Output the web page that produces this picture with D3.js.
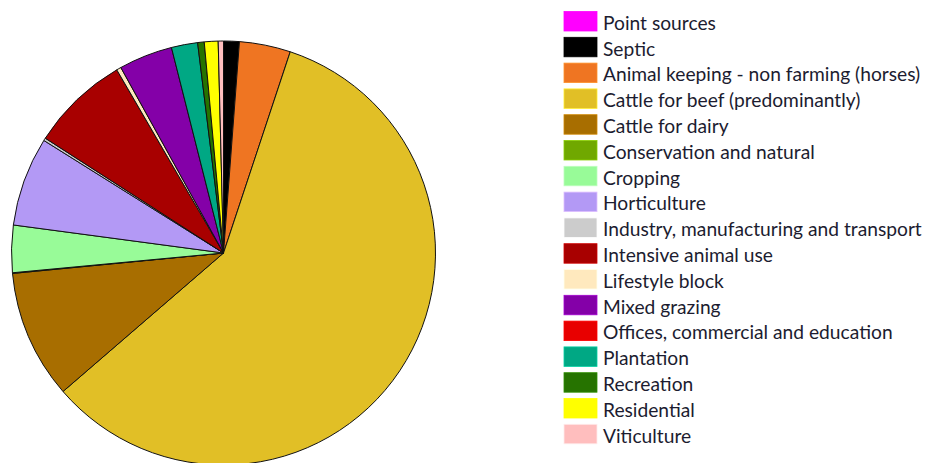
<!DOCTYPE html>
<html>
<head>
<meta charset="utf-8">
<script src="https://cdn.jsdelivr.net/npm/d3@7"></script>
<style>
  html, body { margin: 0; padding: 0; background: #fff; }
  svg { display: block; }
</style>
</head>
<body>
<svg id="chart" width="925" height="463"></svg>
<script>
// Land-use categories, in legend / slice order (clockwise from 12 o'clock)
const categories = [
  "Point sources",
  "Septic",
  "Animal keeping - non farming (horses)",
  "Cattle for beef (predominantly)",
  "Cattle for dairy",
  "Conservation and natural",
  "Cropping",
  "Horticulture",
  "Industry, manufacturing and transport",
  "Intensive animal use",
  "Lifestyle block",
  "Mixed grazing",
  "Offices, commercial and education",
  "Plantation",
  "Recreation",
  "Residential",
  "Viticulture"
];

// Share of the total (%) for each category
const shares = [
  0.0, 1.2, 3.9, 58.6, 9.8, 0.05, 3.6, 6.8, 0.2, 7.5, 0.35, 4.1, 0.0, 2.0, 0.5, 1.05, 0.4
];

// Fill colour per category
const colors = [
  "#FF00FF", "#000000", "#EF7522", "#E1BF26", "#A86E00", "#70A800",
  "#98FB98", "#B399F5", "#CCCCCC", "#A80000", "#FFE9BE", "#8400A8",
  "#E80000", "#00A884", "#267300", "#FFFF00", "#FFBEBE"
];

const rows = categories.map((name, i) => ({ name, value: shares[i], color: colors[i] }));

const svg = d3.select("#chart");

// ---- Pie ----
const cx = 223.5, cy = 253, radius = 212;

const pie = d3.pie()
  .value(d => d.value)
  .sort(null)
  .startAngle(0)
  .endAngle(2 * Math.PI);

const arc = d3.arc().innerRadius(0).outerRadius(radius);

const pieG = svg.append("g").attr("transform", `translate(${cx},${cy})`);

pieG.selectAll("path")
  .data(pie(rows).filter(d => d.data.value > 0))
  .join("path")
  .attr("d", arc)
  .attr("fill", d => d.data.color)
  .attr("stroke", "#111")
  .attr("stroke-width", 1)
  .attr("stroke-linejoin", "round");

// ---- Legend ----
const legendX = 564, legendTop = 11.5, rowStep = 25.8;
const swW = 33, swH = 19.5;

const legend = svg.append("g");

const items = legend.selectAll("g")
  .data(rows)
  .join("g")
  .attr("transform", (d, i) => `translate(${legendX},${legendTop + i * rowStep})`);

items.append("rect")
  .attr("width", swW)
  .attr("height", swH)
  .attr("fill", d => d.color)
  .attr("stroke", d => d3.color(d.color).brighter(0.6))
  .attr("stroke-width", 0.8);

const labels = items.append("text")
  .attr("x", 39)
  .attr("y", swH / 2 + 1)
  .attr("dominant-baseline", "central")
  .attr("font-family", "Lato, 'Open Sans', sans-serif")
  .attr("font-size", 16)
  .attr("fill", "#1c1c30")
  .text(d => d.name);

// Size the labels so the longest entry ends near the right edge
const longest = d3.max(labels.nodes(), n => n.getComputedTextLength());
const fitted = 16 * 319 / longest;
labels.attr("font-size", fitted.toFixed(2));
</script>
</body>
</html>
